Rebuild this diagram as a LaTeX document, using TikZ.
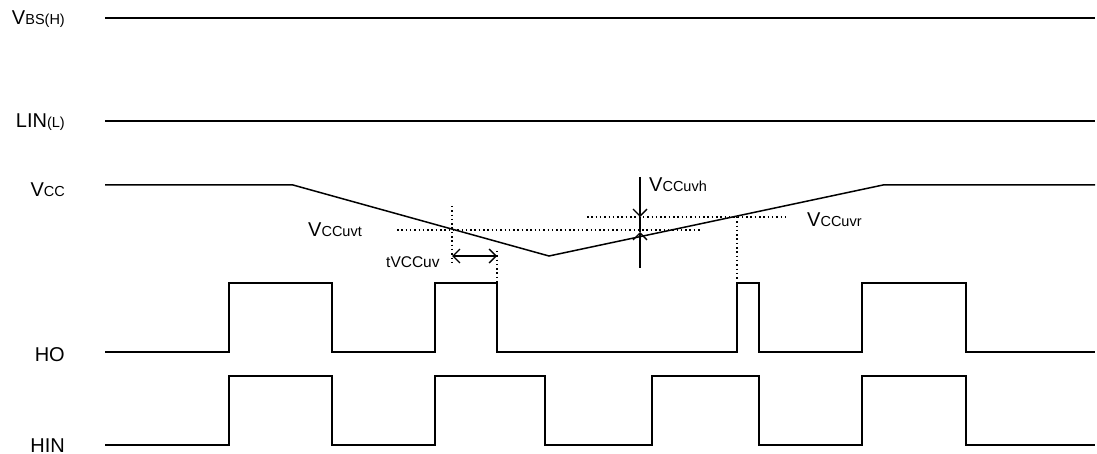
\documentclass[tikz,border=0pt]{standalone}
\usepackage{fontspec}
\setmainfont{Liberation Sans}
\usetikzlibrary{arrows.meta}
\tikzset{
 sig/.style={line width=1.5pt, line join=miter},
 dots/.style={line width=1.5pt, dash pattern=on 1.5pt off 2.8pt},
 lbl/.style={anchor=base east, inner sep=0, font=\fontsize{20}{20}\selectfont},
 tlbl/.style={anchor=base west, inner sep=0, font=\fontsize{20}{20}\selectfont},
 tip/.style={-{Straight Barb[length=7pt,width=14pt,line width=1.3pt]}, line width=1.5pt},
 dtip/.style={{Straight Barb[length=7pt,width=14pt,line width=1.3pt]}-{Straight Barb[length=7pt,width=14pt,line width=1.3pt]}, line width=1.5pt}
}
\newcommand{\lo}[1]{{\fontsize{14.5}{14.5}\selectfont #1}}
\begin{document}
\begin{tikzpicture}[x=1pt,y=-1pt]
\useasboundingbox (0,0) rectangle (1097,454);
% left labels
\node[lbl] (lvbs) at (65,25) {V\lo{BS(H)}};
\node[lbl] (llin) at (65,128) {LIN\lo{(L)}};
\node[lbl] (lvcc) at (65,197) {V\lo{CC}};
\node[lbl] (lho) at (65,361) {HO};
\node[lbl] (lhin) at (65,452.5) {HIN};
% flat lines
\draw[sig] (105,18) -- (1095,18);
\draw[sig] (105,121) -- (1095,121);
% VCC
\coordinate (v0) at (105,185);
\coordinate (v1) at (293,185);
\coordinate (vb) at (549,256);
\coordinate (v2) at (883,185);
\coordinate (v3) at (1095,185);
\draw[sig] (v0) -- (v1) -- (vb) -- (v2) -- (v3);
% HO
\draw[sig] (105,352) -| (229,283) -| (332,352) -| (435,283) -| (497,352) -| (737,283) -| (759,352) -| (862,283) -| (966,352) -- (1095,352);
% HIN
\draw[sig] (105,445) -| (229,376) -| (332,445) -| (435,376) -| (545,445) -| (652,376) -| (759,445) -| (862,376) -| (966,445) -- (1095,445);
% dotted thresholds
\draw[dots] (397,230) -- (702,230);
\draw[dots] (587,217) -- (787,217);
\draw[dots] (452,206) -- (452,262);
\draw[dots] (497,251) -- (497,283);
\draw[dots] (737,217) -- (737,281);
% tVCCuv arrow
\coordinate (ta) at (452,256);
\coordinate (tb) at (497,256);
\draw[dtip] (ta) -- (tb);
% VCCuvh arrows
\coordinate (h0) at (640,177);
\coordinate (h1) at (640,217);
\coordinate (h2) at (640,232);
\coordinate (h3) at (640,268);
\draw[tip] (h0) -- (h1);
\draw[tip] (h3) -- (h2);
\draw[line width=1.5pt] (h1) -- (h2);
% labels
\node[tlbl] (luvt) at (308,237) {V\lo{CCuvt}};
\node[tlbl, font=\fontsize{15.5}{15.5}\selectfont] (ltuv) at (386,268) {tVCCuv};
\node[tlbl] (luvh) at (649,192) {V\lo{CCuvh}};
\node[tlbl] (luvr) at (807,227) {V\lo{CCuvr}};
\end{tikzpicture}
\end{document}
